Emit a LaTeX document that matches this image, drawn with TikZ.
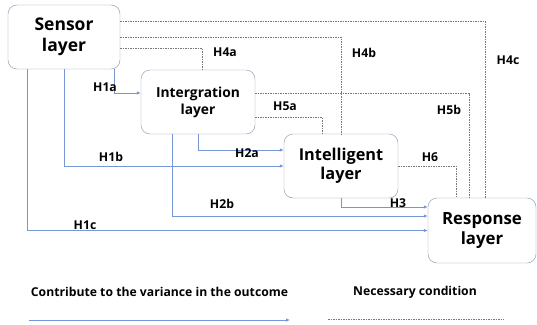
\documentclass[tikz,border=0pt]{standalone}
\usepackage{fontspec}
\setmainfont{Open Sans}
\usetikzlibrary{arrows.meta}
\definecolor{boxline}{RGB}{128,146,172}
\definecolor{arrowblue}{RGB}{118,150,214}
\definecolor{dashgray}{RGB}{120,120,120}
\begin{document}
\begin{tikzpicture}[x=1pt,y=-1pt,
  layer/.style={draw=boxline,rounded corners=9pt,align=center,inner sep=0pt,font=\bfseries\fontsize{16.3}{19}\selectfont},
  contrib/.style={draw=arrowblue,line width=0.8pt,-{Latex[length=4pt,width=3.5pt]}},
  needed/.style={draw=dashgray,line width=0.5pt,dash pattern=on 1.5pt off 1pt},
  hyp/.style={font=\bfseries\fontsize{12.2}{14}\selectfont,inner sep=0pt},
  legend/.style={font=\bfseries\fontsize{12.2}{14}\selectfont,inner sep=0pt}]
\useasboundingbox (0,0) rectangle (537,324);
% boxes
\node[layer,minimum width=112pt,minimum height=64pt,font=\bfseries\fontsize{17.5}{21}\selectfont] (sensor) at (64,37) {Sensor\\layer};
\node[layer,minimum width=114pt,minimum height=64pt,font=\bfseries\fontsize{13.8}{17}\selectfont] (integ) at (198,102) {Intergration\\layer};
\node[layer,minimum width=114pt,minimum height=64pt] (intel) at (341,166) {Intelligent\\layer};
\node[layer,minimum width=108pt,minimum height=65pt,font=\bfseries\fontsize{16.8}{19.5}\selectfont] (resp) at (482,230.5) {Response\\layer};
% necessary conditions
\draw[needed] ([yshift=16pt]sensor.east) -| ([xshift=3pt]resp.north);
\draw[needed] (sensor.east) -| (intel.north);
\draw[needed] ([yshift=-11pt]sensor.east) -| ([xshift=4pt]integ.north);
\draw[needed] ([yshift=9pt]integ.east) -| ([xshift=-13pt]resp.north);
\draw[needed] ([yshift=-15pt]integ.east) -| ([xshift=-19pt]intel.north);
\draw[needed] (intel.east) -| ([xshift=-26pt]resp.north);
% contributions
\draw[contrib] ([xshift=-6pt]sensor.south east) |- ([yshift=9pt]integ.west);
\draw[contrib] (sensor.south) |- (intel.west);
\draw[contrib] ([xshift=-37pt]sensor.south) |- (resp.west);
\draw[contrib] (integ.south) |- ([yshift=16pt]intel.west);
\draw[contrib] ([xshift=-26pt]integ.south) |- ([yshift=14.5pt]resp.west);
\draw[contrib] (intel.south) |- ([yshift=23.5pt]resp.west);
% labels
\node[hyp] (h1a) at (105,87) {H1a};
\node[hyp] (h1b) at (111,157) {H1b};
\node[hyp] (h1c) at (85,225) {H1c};
\node[hyp] (h2a) at (247,153) {H2a};
\node[hyp] (h2b) at (222,204) {H2b};
\node[hyp] (h3) at (398,203) {H3};
\node[hyp] (h4a) at (225,52) {H4a};
\node[hyp] (h4b) at (364,53) {H4b};
\node[hyp] (h4c) at (508,60) {H4c};
\node[hyp] (h5a) at (285,106) {H5a};
\node[hyp] (h5b) at (449,110) {H5b};
\node[hyp] (h6) at (430,157) {H6};
% legend
\node[legend] (contribtext) at (159.5,292) {Contribute to the variance in the outcome};
\node[legend] (neededtext) at (415,292) {Necessary condition};
\coordinate (ca) at (29,320);
\coordinate (cb) at (290,320);
\coordinate (na) at (328,319);
\coordinate (nb) at (504,319);
\draw[contrib] (ca) -- (cb);
\draw[needed] (na) -- (nb);
\end{tikzpicture}
\end{document}
